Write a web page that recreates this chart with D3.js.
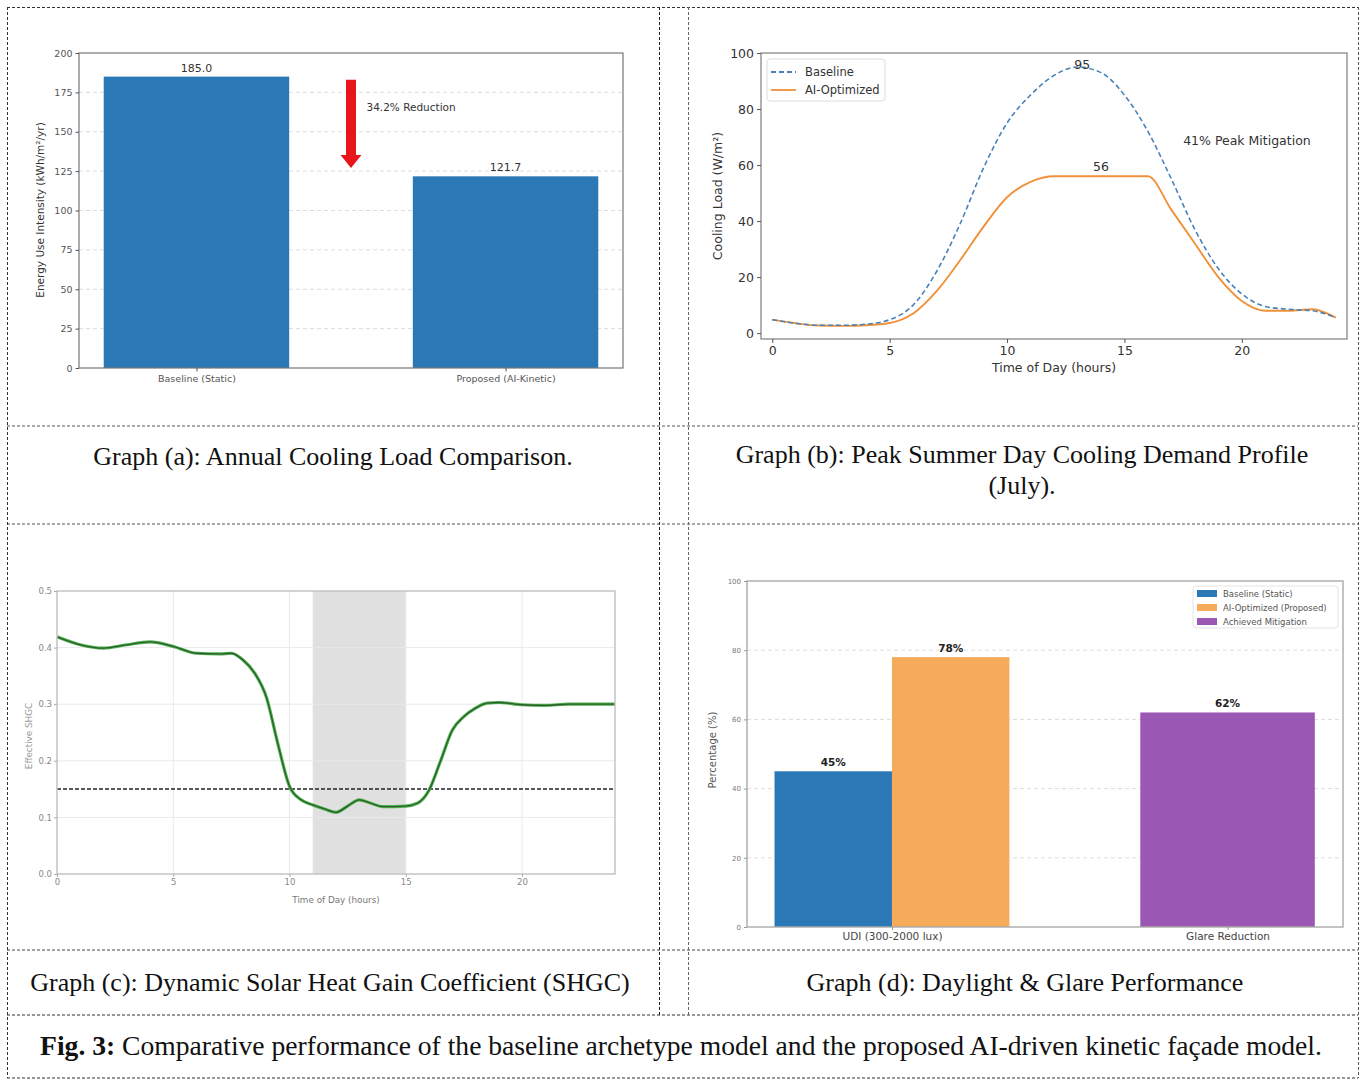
<!DOCTYPE html>
<html>
<head>
<meta charset="utf-8">
<script src="https://cdn.jsdelivr.net/npm/d3@7/dist/d3.min.js"></script>
<style>
  body { margin: 0; background: #fff; }
  svg { display: block; }
  .sans { font-family: "DejaVu Sans", sans-serif; }
  .serif { font-family: "Liberation Serif", "Times New Roman", serif; }
</style>
</head>
<body>
<div id="fig"></div>
<script>
// ---- graph (a): annual cooling load
var aCats = ["Baseline (Static)", "Proposed (AI-Kinetic)"];
var aValues = [185.0, 121.7];
var aTicks = [0, 25, 50, 75, 100, 125, 150, 175, 200];
var aArrow = [183, 127];          // reduction arrow, top -> tip (kWh/m²/yr)
var aNote = "34.2% Reduction";

// ---- graph (b): peak summer day profile
var bHours = [0,1,2,3,4,5,6,7,8,9,10,11,12,13,14,15,16,17,18,19,20,21,22,23,24];
var bBaseline = [4.8,3.5,2.8,2.8,3.2,4.8,10,22,39,59,75,85,92,95,93,85,72,55,37,23,14,9.5,8.5,8,5.5];
var bOptimized = [4.8,3.5,2.7,2.6,2.8,3.6,7,15,26,38,48.5,54,56,56,56,56,56,44,32,20,11.5,8,8,8.5,5.5];
var bXTicks = [0, 5, 10, 15, 20];
var bYTicks = [0, 20, 40, 60, 80, 100];

// ---- graph (c): dynamic SHGC
var cHours = [0,1,2,3,4,5,6,7,7.5,8,8.5,9,9.5,10,10.5,11,11.5,12,12.5,13,13.5,14,15,15.5,16,16.5,17,17.5,18,18.5,19,20,21,22,23,24];
var cShgc = [0.419,0.405,0.399,0.405,0.41,0.402,0.39,0.389,0.39,0.378,0.355,0.313,0.23,0.155,0.131,0.122,0.115,0.109,0.12,0.131,0.125,0.119,0.12,0.125,0.148,0.2,0.254,0.278,0.293,0.302,0.303,0.299,0.298,0.3,0.3,0.3];
var cThreshold = 0.15;
var cSpan = [11, 15];
var cXTicks = [0, 5, 10, 15, 20];
var cYTicks = [0.0, 0.1, 0.2, 0.3, 0.4, 0.5];

// ---- graph (d): daylight & glare
var dGroups = ["UDI (300-2000 lux)", "Glare Reduction"];
var dSeries = ["Baseline (Static)", "AI-Optimized (Proposed)", "Achieved Mitigation"];
var dBaseline = [45];
var dOptimized = [78];
var dMitigation = [62];
var dYTicks = [0, 20, 40, 60, 80, 100];

var svg = d3.select("#fig").append("svg").attr("width", 1362).attr("height", 1084);

// ---------- table grid (dashed borders)
function dline(x1, y1, x2, y2, col) {
    svg.append("line").attr("x1", x1).attr("y1", y1).attr("x2", x2).attr("y2", y2)
        .attr("stroke", col || "#333").attr("stroke-width", 1).attr("stroke-dasharray", "3,2");
}
dline(7, 7.5, 1358, 7.5);
dline(7, 426, 1358, 426, "#555");
dline(7, 524, 1358, 524, "#555");
dline(7, 950, 1358, 950, "#444");
dline(7, 1015, 1358, 1015, "#333");
dline(7, 1078, 1358, 1078, "#333");
dline(7.5, 7, 7.5, 1078);
dline(1358.5, 7, 1358.5, 1078, "#555");
dline(659.5, 7, 659.5, 1015, "#222");
dline(688.5, 7, 688.5, 1015, "#666");

// ---------- captions
function caption(x, y, txt) {
    svg.append("text").attr("class", "serif").attr("x", x).attr("y", y)
        .attr("text-anchor", "middle").attr("font-size", 26).attr("fill", "#111").text(txt);
}
caption(333, 465, "Graph (a): Annual Cooling Load Comparison.");
caption(1022, 463, "Graph (b): Peak Summer Day Cooling Demand Profile");
caption(1022, 494, "(July).");
caption(330, 991, "Graph (c): Dynamic Solar Heat Gain Coefficient (SHGC)");
caption(1025, 991, "Graph (d): Daylight & Glare Performance");
var fig = svg.append("text").attr("class", "serif").attr("x", 681).attr("y", 1055)
    .attr("text-anchor", "middle").attr("font-size", 27.6).attr("fill", "#111");
fig.append("tspan").attr("font-weight", "bold").text("Fig. 3:");
fig.append("tspan").text(" Comparative performance of the baseline archetype model and the proposed AI-driven kinetic façade model.");

// helper: style an axis group
function styleAxis(g, fs, col, tickCol) {
    g.selectAll("path.domain").remove();
    g.selectAll("line").attr("stroke", tickCol || "#555");
    g.selectAll("text").attr("class", "sans").attr("font-size", fs).attr("fill", col);
}
function frame(g, x0, x1, y0, y1, col, w) {
    g.append("rect").attr("x", x0).attr("y", y0).attr("width", x1 - x0).attr("height", y1 - y0)
        .attr("fill", "none").attr("stroke", col).attr("stroke-width", w || 1);
}

// ================= graph (a)
(function () {
    var g = svg.append("g");
    var x = d3.scaleLinear().domain([-0.38, 1.38]).range([79, 623]);
    var y = d3.scaleLinear().domain([0, 200]).range([368, 53]);

    g.selectAll("line.grid").data(aTicks.slice(1, -1)).enter().append("line")
        .attr("x1", 79).attr("x2", 623).attr("y1", function (d) { return y(d); }).attr("y2", function (d) { return y(d); })
        .attr("stroke", "#ddd").attr("stroke-dasharray", "4,3");

    g.selectAll("rect.bar").data(aValues).enter().append("rect")
        .attr("x", function (d, i) { return x(i - 0.3); })
        .attr("width", x(0.6) - x(0))
        .attr("y", function (d) { return y(d); })
        .attr("height", function (d) { return y(0) - y(d); })
        .attr("fill", "#2a78b6");

    g.selectAll("text.val").data(aValues).enter().append("text").attr("class", "sans")
        .attr("x", function (d, i) { return x(i); }).attr("y", function (d) { return y(d) - 5; })
        .attr("text-anchor", "middle").attr("font-size", 11).attr("fill", "#333")
        .text(function (d) { return d.toFixed(1); });

    frame(g, 79, 623, 53, 368, "#777", 1.2);

    var ya = g.append("g").attr("transform", "translate(79,0)")
        .call(d3.axisLeft(y).tickValues(aTicks).tickSize(3.5).tickPadding(3));
    styleAxis(ya, 9.5, "#555");
    var xa = g.append("g").attr("transform", "translate(0,368)")
        .call(d3.axisBottom(x).tickValues([0, 1]).tickSize(3.5).tickPadding(4).tickFormat(function (d) { return aCats[d]; }));
    styleAxis(xa, 9.5, "#555");

    g.append("text").attr("class", "sans").attr("transform", "translate(44,210) rotate(-90)")
        .attr("text-anchor", "middle").attr("font-size", 10.5).attr("fill", "#333")
        .text("Energy Use Intensity (kWh/m²/yr)");

    // red arrow
    var ax = x(0.5), top = y(aArrow[0]), tip = y(aArrow[1]);
    g.append("path")
        .attr("d", "M" + (ax - 5) + "," + top + "H" + (ax + 5) + "V" + (tip - 13) + "H" + (ax + 10.5) +
            "L" + ax + "," + tip + "L" + (ax - 10.5) + "," + (tip - 13) + "H" + (ax - 5) + "Z")
        .attr("fill", "#e8161b");
    g.append("text").attr("class", "sans").attr("x", x(0.55)).attr("y", y(163))
        .attr("font-size", 10.5).attr("fill", "#333").text(aNote);
})();

// ================= graph (b)
(function () {
    var g = svg.append("g");
    var x = d3.scaleLinear().domain([-0.48, 24.48]).range([761, 1347]);
    var y = d3.scaleLinear().domain([-2.1, 100]).range([339, 53]);

    var line = function (vals) {
        return d3.line().curve(d3.curveMonotoneX)
            .x(function (d, i) { return x(bHours[i]); }).y(function (d) { return y(d); })(vals);
    };
    g.append("path").attr("d", line(bOptimized)).attr("fill", "none")
        .attr("stroke", "#f0913a").attr("stroke-width", 1.9);
    g.append("path").attr("d", line(bBaseline)).attr("fill", "none")
        .attr("stroke", "#4a82b8").attr("stroke-width", 1.6).attr("stroke-dasharray", "5,3");

    frame(g, 761, 1347, 53, 339, "#888", 1.3);

    var ya = g.append("g").attr("transform", "translate(761,0)")
        .call(d3.axisLeft(y).tickValues(bYTicks).tickSize(4).tickPadding(3));
    styleAxis(ya, 12.5, "#333");
    var xa = g.append("g").attr("transform", "translate(0,339)")
        .call(d3.axisBottom(x).tickValues(bXTicks).tickSize(4).tickPadding(3));
    styleAxis(xa, 12.5, "#333");

    g.append("text").attr("class", "sans").attr("x", 1054).attr("y", 372)
        .attr("text-anchor", "middle").attr("font-size", 12.5).attr("fill", "#333").text("Time of Day (hours)");
    g.append("text").attr("class", "sans").attr("transform", "translate(722,196) rotate(-90)")
        .attr("text-anchor", "middle").attr("font-size", 12.5).attr("fill", "#333").text("Cooling Load (W/m²)");

    var iPeak = bBaseline.indexOf(d3.max(bBaseline));
    g.append("text").attr("class", "sans").attr("x", x(bHours[iPeak] + 0.2)).attr("y", y(bBaseline[iPeak]) + 2)
        .attr("text-anchor", "middle").attr("font-size", 12.5).attr("fill", "#333").text(Math.round(d3.max(bBaseline)));
    g.append("text").attr("class", "sans").attr("x", x(14)).attr("y", y(d3.max(bOptimized)) - 5)
        .attr("text-anchor", "middle").attr("font-size", 12.5).attr("fill", "#333").text(Math.round(d3.max(bOptimized)));
    g.append("text").attr("class", "sans").attr("x", x(17.5)).attr("y", y(68.5) + 4)
        .attr("font-size", 12.5).attr("fill", "#333").text("41% Peak Mitigation");

    // legend
    var lg = g.append("g").attr("transform", "translate(767,59)");
    lg.append("rect").attr("width", 118).attr("height", 42).attr("rx", 3)
        .attr("fill", "#fff").attr("fill-opacity", 0.8).attr("stroke", "#ddd");
    var items = [["Baseline", "#4a82b8", "5,3"], ["AI-Optimized", "#f0913a", null]];
    items.forEach(function (it, i) {
        lg.append("line").attr("x1", 4).attr("x2", 29).attr("y1", 13 + i * 18).attr("y2", 13 + i * 18)
            .attr("stroke", it[1]).attr("stroke-width", 1.8).attr("stroke-dasharray", it[2]);
        lg.append("text").attr("class", "sans").attr("x", 38).attr("y", 17 + i * 18)
            .attr("font-size", 11.5).attr("fill", "#333").text(it[0]);
    });
})();

// ================= graph (c)
(function () {
    var g = svg.append("g");
    var x = d3.scaleLinear().domain([0, 24]).range([57, 615]);
    var y = d3.scaleLinear().domain([0, 0.5]).range([874, 591]);

    g.append("rect").attr("x", x(cSpan[0])).attr("width", x(cSpan[1]) - x(cSpan[0]))
        .attr("y", 591).attr("height", 874 - 591).attr("fill", "#e0e0e0");

    g.selectAll("line.gx").data(cXTicks.slice(1)).enter().append("line")
        .attr("x1", function (d) { return x(d); }).attr("x2", function (d) { return x(d); })
        .attr("y1", 591).attr("y2", 874).attr("stroke", "#e9e9e9");
    g.selectAll("line.gy").data(cYTicks.slice(1, -1)).enter().append("line")
        .attr("y1", function (d) { return y(d); }).attr("y2", function (d) { return y(d); })
        .attr("x1", 57).attr("x2", 615).attr("stroke", "#e9e9e9");

    g.append("line").attr("x1", 57).attr("x2", 615).attr("y1", y(cThreshold)).attr("y2", y(cThreshold))
        .attr("stroke", "#222").attr("stroke-width", 1.5).attr("stroke-dasharray", "4,2");

    var line = d3.line().curve(d3.curveMonotoneX)
        .x(function (d, i) { return x(cHours[i]); }).y(function (d) { return y(d); });
    g.append("path").attr("d", line(cShgc)).attr("fill", "none").attr("stroke", "#4fb24f").attr("stroke-width", 3.2);
    g.append("path").attr("d", line(cShgc)).attr("fill", "none").attr("stroke", "#2c5f2c").attr("stroke-width", 1.3);

    frame(g, 57, 615, 591, 874, "#c4c4c4", 1.5);

    var ya = g.append("g").attr("transform", "translate(57,0)")
        .call(d3.axisLeft(y).tickValues(cYTicks).tickSize(3).tickPadding(2).tickFormat(d3.format(".1f")));
    styleAxis(ya, 8.5, "#888", "#aaa");
    var xa = g.append("g").attr("transform", "translate(0,874)")
        .call(d3.axisBottom(x).tickValues(cXTicks).tickSize(3).tickPadding(2));
    styleAxis(xa, 8.5, "#888", "#aaa");

    g.append("text").attr("class", "sans").attr("x", 336).attr("y", 903)
        .attr("text-anchor", "middle").attr("font-size", 8.8).attr("fill", "#777").text("Time of Day (hours)");
    g.append("text").attr("class", "sans").attr("transform", "translate(32,736) rotate(-90)")
        .attr("text-anchor", "middle").attr("font-size", 8.8).attr("fill", "#999").text("Effective SHGC");
})();

// ================= graph (d)
(function () {
    var g = svg.append("g");
    var x = d3.scaleLinear().domain([-0.432, 1.344]).range([747, 1343]);
    var y = d3.scaleLinear().domain([0, 100]).range([927, 581]);
    var colors = ["#2a78b6", "#f6ab5a", "#9a57b3"];

    g.selectAll("line.grid").data(dYTicks.slice(1, -1)).enter().append("line")
        .attr("x1", 747).attr("x2", 1343).attr("y1", function (d) { return y(d); }).attr("y2", function (d) { return y(d); })
        .attr("stroke", "#ddd").attr("stroke-dasharray", "4,3");

    var bars = [
        { x0: -0.35, w: 0.35, v: dBaseline[0], c: colors[0] },
        { x0: 0, w: 0.35, v: dOptimized[0], c: colors[1] },
        { x0: 1 - 0.26, w: 0.52, v: dMitigation[0], c: colors[2] }
    ];
    g.selectAll("rect.bar").data(bars).enter().append("rect")
        .attr("x", function (d) { return x(d.x0); })
        .attr("width", function (d) { return x(d.w) - x(0); })
        .attr("y", function (d) { return y(d.v); })
        .attr("height", function (d) { return y(0) - y(d.v); })
        .attr("fill", function (d) { return d.c; });
    g.selectAll("text.val").data(bars).enter().append("text").attr("class", "sans")
        .attr("x", function (d) { return x(d.x0 + d.w / 2); }).attr("y", function (d) { return y(d.v) - 5; })
        .attr("text-anchor", "middle").attr("font-size", 10.5).attr("font-weight", "bold").attr("fill", "#222")
        .text(function (d) { return d.v + "%"; });

    frame(g, 747, 1343, 581, 927, "#aaa", 1.4);

    var ya = g.append("g").attr("transform", "translate(747,0)")
        .call(d3.axisLeft(y).tickValues(dYTicks).tickSize(3).tickPadding(3));
    styleAxis(ya, 7, "#777", "#999");
    var xa = g.append("g").attr("transform", "translate(0,927)")
        .call(d3.axisBottom(x).tickValues([0, 1]).tickSize(3).tickPadding(3).tickFormat(function (d) { return dGroups[d]; }));
    styleAxis(xa, 10.5, "#444", "#999");

    g.append("text").attr("class", "sans").attr("transform", "translate(716,750) rotate(-90)")
        .attr("text-anchor", "middle").attr("font-size", 10).attr("fill", "#555").text("Percentage (%)");

    var lg = g.append("g").attr("transform", "translate(1193,586)");
    lg.append("rect").attr("width", 145).attr("height", 42).attr("rx", 3)
        .attr("fill", "#fff").attr("stroke", "#e4e4e4");
    dSeries.forEach(function (s, i) {
        lg.append("rect").attr("x", 4).attr("y", 4 + i * 14).attr("width", 20).attr("height", 7).attr("fill", colors[i]);
        lg.append("text").attr("class", "sans").attr("x", 30).attr("y", 11 + i * 14)
            .attr("font-size", 8.5).attr("fill", "#555").text(s);
    });
})();
</script>
</body>
</html>
